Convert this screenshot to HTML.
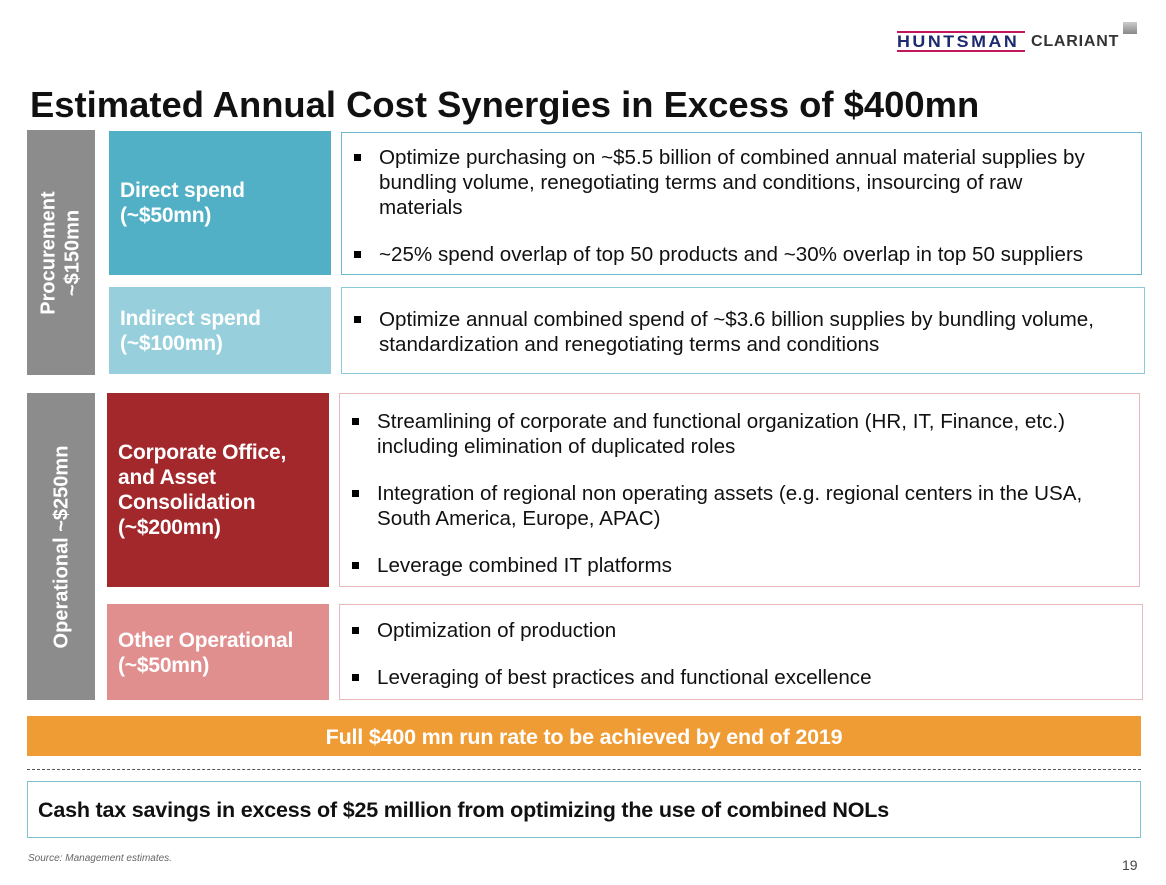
<!DOCTYPE html>
<html><head><style>
body{margin:0;width:1166px;height:885px;background:#fff;position:relative;overflow:hidden;font-family:"Liberation Sans",Arial,sans-serif;}
.a{position:absolute;box-sizing:border-box;}
.side{background:#8c8c8c;color:#fff;font-weight:bold;font-size:20px;display:flex;align-items:center;justify-content:center;}
.side span{transform:rotate(-90deg);white-space:nowrap;text-align:center;line-height:24px;}
.lbl{color:#fff;font-weight:bold;font-size:21px;line-height:25px;padding-left:11px;display:flex;align-items:center;letter-spacing:-0.2px;}
.tb{background:#fff;font-size:20.6px;line-height:25px;color:#111;}
.tb ul{margin:0;padding:0;list-style:none;}
.tb li{position:relative;padding-left:37px;margin-bottom:22px;padding-right:20px;}
.tb li:before{content:"";position:absolute;left:12px;top:9px;width:7px;height:7px;background:#000;}
</style></head><body>
<div class="a" style="left:897px;top:31px;width:128px;height:2px;background:#c2185b"></div>
<div class="a" style="left:897px;top:33px;font-weight:900;font-size:17px;color:#1c2a6e;letter-spacing:2.4px;line-height:17px;transform:scaleX(1.05);transform-origin:left">HUNTSMAN</div>
<div class="a" style="left:897px;top:50px;width:128px;height:2px;background:#c2185b"></div>
<div class="a" style="left:1031px;top:33px;font-weight:bold;font-size:16px;color:#333;letter-spacing:0.8px;line-height:17px">CLARIANT</div>
<div class="a" style="left:1123px;top:22px;width:14px;height:12px;background:linear-gradient(#ccc,#888)"></div>
<div class="a" style="left:30px;top:84px;font-weight:bold;font-size:36.4px;color:#111;white-space:nowrap;">Estimated Annual Cost Synergies in Excess of $400mn</div>

<div class="a side" style="left:27px;top:130px;width:68px;height:245px"><span>Procurement<br>~$150mn</span></div>
<div class="a lbl" style="left:109px;top:131px;width:222px;height:144px;background:#52b0c6">Direct spend<br>(~$50mn)</div>
<div class="a lbl" style="left:109px;top:287px;width:222px;height:87px;background:#97d0dc">Indirect spend<br>(~$100mn)</div>
<div class="a tb" style="left:341px;top:132px;width:801px;height:143px;border:1.5px solid #6cb8cc;padding-top:12px"><ul><li style="padding-right:32px">Optimize purchasing on ~$5.5 billion of combined annual material supplies by bundling volume, renegotiating terms and conditions, insourcing of raw materials</li><li>~25% spend overlap of top 50 products and ~30% overlap in top 50 suppliers</li></ul></div>
<div class="a tb" style="left:341px;top:287px;width:804px;height:87px;border:1.5px solid #8ccbd9;padding-top:19px"><ul><li>Optimize annual combined spend of ~$3.6 billion supplies by bundling volume, standardization and renegotiating terms and conditions</li></ul></div>

<div class="a side" style="left:27px;top:393px;width:68px;height:307px"><span>Operational ~$250mn</span></div>
<div class="a lbl" style="left:107px;top:393px;width:222px;height:194px;background:#a2282c">Corporate Office,<br>and Asset<br>Consolidation<br>(~$200mn)</div>
<div class="a lbl" style="left:107px;top:604px;width:222px;height:96px;background:#e08e8e;align-items:flex-start;padding-top:24px">Other Operational<br>(~$50mn)</div>
<div class="a tb" style="left:339px;top:393px;width:801px;height:194px;border:1.5px solid #e8b8bc;padding-top:15px"><ul><li>Streamlining of corporate and functional organization (HR, IT, Finance, etc.) including elimination of duplicated roles</li><li>Integration of regional non operating assets (e.g. regional centers in the USA, South America, Europe, APAC)</li><li>Leverage combined IT platforms</li></ul></div>
<div class="a tb" style="left:339px;top:604px;width:804px;height:96px;border:1.5px solid #e8b8bc;padding-top:13px"><ul><li>Optimization of production</li><li>Leveraging of best practices and functional excellence</li></ul></div>

<div class="a" style="left:27px;top:716px;width:1114px;height:40px;background:#f09c35;color:#fff;font-weight:bold;font-size:21.5px;text-align:center;line-height:42px;letter-spacing:-0.2px">Full $400 mn run rate to be achieved by end of 2019</div>
<div class="a" style="left:27px;top:769px;width:1114px;border-top:1.5px dashed #555"></div>
<div class="a" style="left:27px;top:781px;width:1114px;height:57px;border:1.5px solid #7cc4d4;font-weight:bold;font-size:21.5px;line-height:56px;padding-left:10px;color:#111;letter-spacing:-0.2px">Cash tax savings in excess of $25 million from optimizing the use of combined NOLs</div>
<div class="a" style="left:28px;top:853px;font-size:10px;font-style:italic;color:#666">Source: Management estimates.</div>
<div class="a" style="left:1122px;top:857px;font-size:14px;color:#444">19</div>
</body></html>
